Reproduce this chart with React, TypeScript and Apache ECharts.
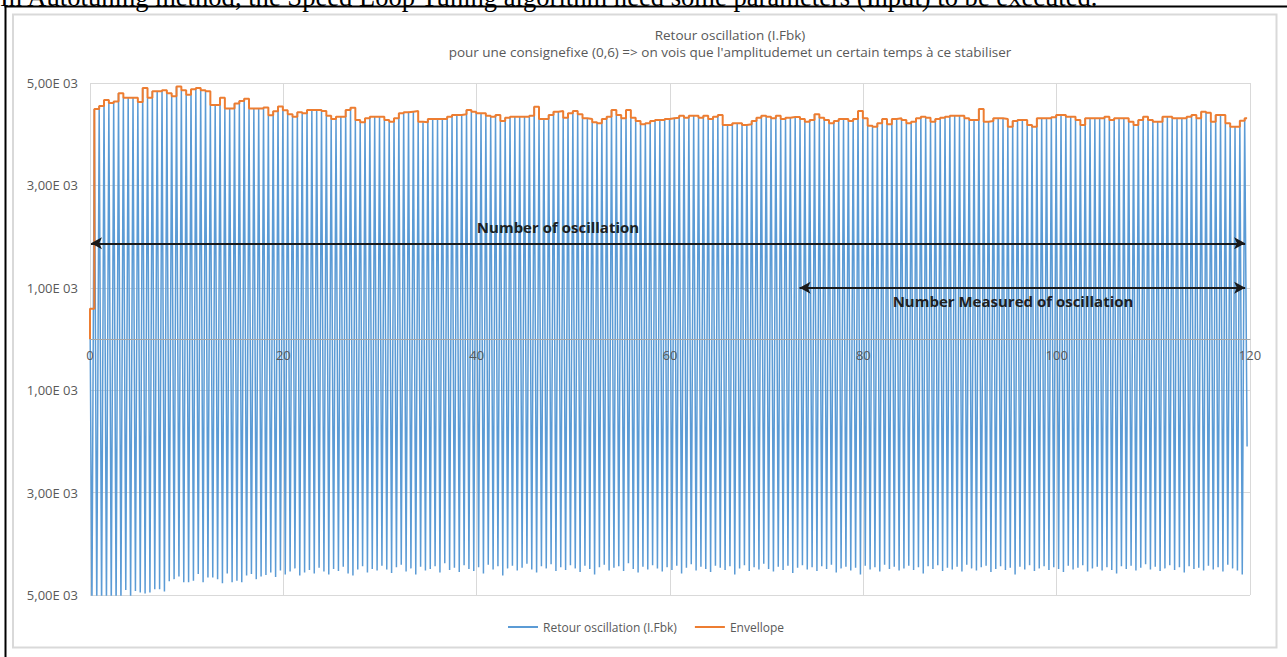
import React, { useEffect, useRef } from "react";
import * as echarts from "echarts";

// ---------- data ----------
const pageCaption =
  "In Autotuning method, the Speed Loop Tuning algorithm need some parameters (Input) to be executed.";
const chartTitle = "Retour oscillation (I.Fbk)";
const chartSubtitle =
  "pour une consignefixe (0,6) => on vois que l'amplitudemet un certain temps à ce stabiliser";
const seriesNames = ["Retour oscillation (I.Fbk)", "Envellope"];
const annotationTexts = ["Number of oscillation", "Number Measured of oscillation"];

const xTickValues = [0, 20, 40, 60, 80, 100, 120];
const yTickValues = [-5000, -3000, -1000, 1000, 3000, 5000];
const yTickLabels = ["5,00E 03", "3,00E 03", "1,00E 03", "1,00E 03", "3,00E 03", "5,00E 03"];

// sampling of the recorded signal (time units of the x axis)
const FIRST_SAMPLE_T = 0.2;
const HALF_PERIOD = 0.25;
const INITIAL_LEVEL = 590;

// successive maxima of the oscillation (one per period)
const peaks = [
  4490, 4550, 4670, 4610, 4640, 4800, 4710, 4710, 4710, 4630,
  4900, 4710, 4840, 4840, 4860, 4800, 4740, 4930, 4860, 4770,
  4880, 4900, 4860, 4840, 4570, 4570, 4710, 4500, 4500, 4600,
  4650, 4690, 4500, 4500, 4500, 4520, 4370, 4450, 4540, 4470,
  4390, 4340, 4430, 4407, 4473, 4473, 4473, 4453, 4362, 4297,
  4342, 4342, 4473, 4518, 4277, 4232, 4310, 4342, 4342, 4342,
  4277, 4245, 4310, 4407, 4427, 4440, 4453, 4245, 4232, 4297,
  4297, 4297, 4297, 4342, 4375, 4375, 4388, 4473, 4440, 4407,
  4407, 4362, 4342, 4375, 4258, 4323, 4342, 4342, 4342, 4342,
  4362, 4538, 4297, 4297, 4375, 4440, 4453, 4323, 4407, 4453,
  4388, 4310, 4297, 4232, 4212, 4297, 4342, 4473, 4375, 4310,
  4473, 4323, 4258, 4193, 4212, 4258, 4277, 4277, 4297, 4310,
  4323, 4362, 4323, 4362, 4362, 4323, 4362, 4297, 4342, 4375,
  4180, 4180, 4212, 4212, 4180, 4193, 4258, 4323, 4362, 4342,
  4310, 4362, 4297, 4323, 4336, 4336, 4297, 4245, 4277, 4388,
  4323, 4277, 4212, 4258, 4297, 4297, 4258, 4297, 4453, 4310,
  4167, 4147, 4212, 4297, 4193, 4297, 4310, 4277, 4212, 4245,
  4310, 4342, 4323, 4245, 4297, 4323, 4342, 4362, 4362, 4362,
  4310, 4277, 4277, 4492, 4245, 4258, 4310, 4310, 4297, 4147,
  4258, 4277, 4277, 4180, 4147, 4310, 4310, 4310, 4330, 4375,
  4375, 4342, 4342, 4277, 4180, 4310, 4310, 4310, 4310, 4342,
  4277, 4310, 4310, 4310, 4245, 4180, 4277, 4342, 4277, 4245,
  4245, 4342, 4342, 4310, 4310, 4310, 4342, 4375, 4310, 4440,
  4420, 4245, 4375, 4375, 4212, 4147, 4147, 4265, 4310,
];

// successive minima of the oscillation (the last one is the final, partial sample)
const troughs = [
  -5300, -5250, -5300, -5200, -5250, -5300, -5200, -4900, -5150, -4920,
  -4950, -4970, -4950, -4890, -4890, -4930, -4730, -4690, -4640, -4750,
  -4750, -4720, -4590, -4750, -4660, -4660, -4690, -4770, -4580, -4750,
  -4720, -4750, -4620, -4590, -4690, -4640, -4610, -4560, -4650, -4520,
  -4600, -4540, -4480, -4620, -4560, -4510, -4580, -4470, -4540, -4600,
  -4490, -4530, -4450, -4580, -4620, -4500, -4440, -4560, -4490, -4520,
  -4430, -4500, -4570, -4460, -4410, -4540, -4480, -4600, -4450, -4520,
  -4490, -4440, -4560, -4380, -4510, -4470, -4550, -4420, -4490, -4530,
  -4460, -4580, -4410, -4500, -4440, -4620, -4480, -4430, -4520, -4470,
  -4390, -4500, -4560, -4440, -4480, -4400, -4530, -4460, -4510, -4420,
  -4480, -4550, -4430, -4490, -4600, -4460, -4410, -4520, -4470, -4440,
  -4530, -4380, -4490, -4560, -4450, -4500, -4420, -4480, -4540, -4460,
  -4510, -4430, -4580, -4470, -4400, -4520, -4450, -4490, -4550, -4430,
  -4470, -4510, -4440, -4600, -4480, -4420, -4530, -4460, -4500, -4390,
  -4490, -4540, -4450, -4510, -4430, -4570, -4470, -4420, -4500, -4460,
  -4530, -4440, -4490, -4410, -4560, -4480, -4450, -4520, -4470, -4600,
  -4430, -4500, -4460, -4540, -4410, -4490, -4450, -4520, -4480, -4430,
  -4510, -4460, -4580, -4440, -4490, -4420, -4530, -4470, -4500, -4450,
  -4540, -4410, -4480, -4520, -4460, -4430, -4550, -4490, -4440, -4510,
  -4470, -4600, -4450, -4500, -4420, -4530, -4480, -4440, -4510, -4460,
  -4490, -4550, -4430, -4500, -4470, -4420, -4540, -4480, -4450, -4520,
  -4460, -4510, -4580, -4440, -4490, -4430, -4520, -4470, -4400, -4500,
  -4450, -4530, -4480, -4420, -4510, -4460, -4560, -4440, -4490, -4470,
  -4520, -4430, -4500, -4460, -4540, -4410, -4480, -4520, -4600, -2100,
];

// double arrows: [x start, x end, y level]
const arrowTotal = [0.1, 119.5, 1870];
const arrowMeasured = [73.4, 119.5, 1000];

// ---------- component ----------
const FONT = '"Open Sans", "Liberation Sans", sans-serif';
const GREY_TEXT = "#595959";
const GRID = { left: 90, right: 37, top: 83, bottom: 62 };

export default function App() {
  const ref = useRef<HTMLDivElement>(null);

  useEffect(() => {
    if (!ref.current) return;
    const chart = echarts.init(ref.current, undefined, { renderer: "svg" });

    const signal: [number, number][] = [[0, INITIAL_LEVEL]];
    const total = troughs.length + peaks.length;
    for (let j = 0; j < total; j++) {
      const t = FIRST_SAMPLE_T + HALF_PERIOD * j;
      const v = j % 2 === 0 ? troughs[j / 2] : peaks[(j - 1) / 2];
      signal.push([t, v]);
    }
    const envelope: [number, number][] = [
      [0, 0],
      [0, INITIAL_LEVEL],
    ];
    peaks.forEach((p, k) => {
      envelope.push([FIRST_SAMPLE_T + HALF_PERIOD * (2 * k + 1), p]);
    });
    envelope.push([signal[signal.length - 1][0], peaks[peaks.length - 1]]);

    const yMin = yTickValues[0];
    const yMax = yTickValues[yTickValues.length - 1];
    const xMin = xTickValues[0];
    const xMax = xTickValues[xTickValues.length - 1];
    const gridHeight = 657 - GRID.top - GRID.bottom;
    // move the labelled axis up so that it sits on the value 0
    const zeroOffset = (-gridHeight * (0 - yMin)) / (yMax - yMin);

    chart.setOption({
      animation: false,
      backgroundColor: "#ffffff",
      textStyle: { fontFamily: FONT },
      grid: { ...GRID, containLabel: false },
      xAxis: [
        {
          // grid lines, behind the series
          type: "value",
          min: xMin,
          max: xMax,
          interval: 20,
          axisLine: { show: false },
          axisTick: { show: false },
          axisLabel: { show: false },
          splitLine: { show: true, lineStyle: { color: "#d9d9d9", width: 1 } },
        },
        {
          // axis line on 0 and its labels, drawn over the series
          type: "value",
          position: "bottom",
          min: xMin,
          max: xMax,
          interval: 20,
          offset: zeroOffset,
          z: 20,
          axisLine: { show: true, onZero: false, lineStyle: { color: "#a6a6a6", width: 1 } },
          axisTick: { show: false },
          axisLabel: { color: GREY_TEXT, fontSize: 13, fontFamily: FONT, margin: 9 },
          splitLine: { show: false },
        },
      ],
      yAxis: {
        type: "value",
        min: yMin,
        max: yMax,
        interval: 2000,
        axisLine: { show: false },
        axisTick: { show: false },
        axisLabel: {
          color: GREY_TEXT,
          fontSize: 13,
          fontFamily: FONT,
          margin: 12,
          formatter: (v: number) => {
            const i = yTickValues.indexOf(v);
            return i >= 0 ? yTickLabels[i] : "";
          },
        },
        splitLine: { show: true, lineStyle: { color: "#d9d9d9", width: 1 } },
      },
      legend: {
        data: seriesNames.map((name) => ({ name, icon: "rect" })),
        left: 503,
        top: 616,
        itemWidth: 30,
        itemHeight: 2,
        itemGap: 18,
        textStyle: { color: GREY_TEXT, fontSize: 12, fontFamily: FONT },
      },
      series: [
        {
          name: seriesNames[0],
          type: "line",
          xAxisIndex: 0,
          data: signal,
          symbol: "none",
          lineStyle: { color: "#5b9bd5", width: 1.5 },
          itemStyle: { color: "#5b9bd5" },
          z: 2,
          markLine: {
            silent: true,
            symbol: ["arrow", "arrow"],
            symbolSize: [9, 11],
            label: { show: false },
            lineStyle: { color: "#1a1a1a", width: 2, type: "solid" },
            data: [
              [{ coord: [arrowTotal[0], arrowTotal[2]] }, { coord: [arrowTotal[1], arrowTotal[2]] }],
              [{ coord: [arrowMeasured[0], arrowMeasured[2]] }, { coord: [arrowMeasured[1], arrowMeasured[2]] }],
            ],
          },
        },
        {
          name: seriesNames[1],
          type: "line",
          xAxisIndex: 0,
          data: envelope,
          step: "end",
          symbol: "none",
          lineStyle: { color: "#ed7d31", width: 2 },
          itemStyle: { color: "#ed7d31" },
          z: 3,
        },
      ],
      graphic: [
        {
          type: "text",
          x: 0,
          y: 10,
          style: {
            text: pageCaption,
            font: '26.6px "Liberation Serif", "DejaVu Serif", serif',
            fill: "#000000",
            verticalAlign: "bottom",
            align: "left",
          },
        },
        { type: "line", shape: { x1: 4.5, y1: 6.5, x2: 1287, y2: 6.5 }, style: { stroke: "#000000", lineWidth: 2 } },
        { type: "line", shape: { x1: 5.5, y1: 6, x2: 5.5, y2: 657 }, style: { stroke: "#000000", lineWidth: 2 } },
        {
          type: "rect",
          shape: { x: 13, y: 14.5, width: 1263.5, height: 633 },
          style: { fill: "none", stroke: "#d9d9d9", lineWidth: 2 },
          silent: true,
        },
        {
          type: "text",
          x: 730,
          y: 35,
          style: { text: chartTitle, font: `13.5px ${FONT}`, fill: GREY_TEXT, align: "center", verticalAlign: "middle" },
        },
        {
          type: "text",
          x: 730,
          y: 52,
          style: { text: chartSubtitle, font: `13.5px ${FONT}`, fill: GREY_TEXT, align: "center", verticalAlign: "middle" },
        },
        {
          type: "text",
          x: 558,
          y: 227,
          z: 10,
          style: { text: annotationTexts[0], font: `bold 15px ${FONT}`, fill: "#1f1f1f", align: "center", verticalAlign: "middle" },
        },
        {
          type: "text",
          x: 1013,
          y: 301,
          z: 10,
          style: { text: annotationTexts[1], font: `bold 15px ${FONT}`, fill: "#1f1f1f", align: "center", verticalAlign: "middle" },
        },
      ],
    });

    return () => chart.dispose();
  }, []);

  return (
    <div
      ref={ref}
      style={{ position: "fixed", left: 0, top: 0, width: 1287, height: 657, background: "#ffffff" }}
    />
  );
}
